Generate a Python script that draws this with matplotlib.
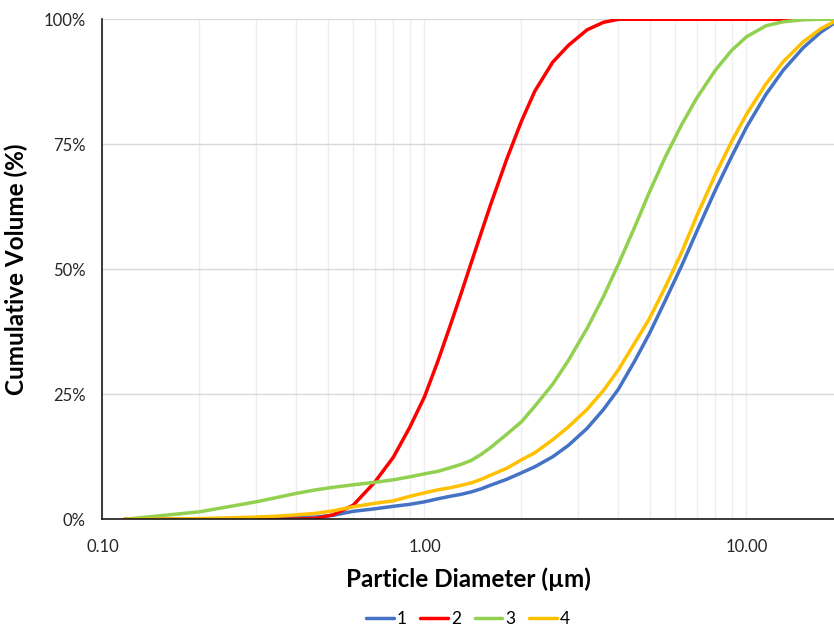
import matplotlib.pyplot as plt
import matplotlib.ticker as mticker

plt.rcParams['font.family'] = ['Lato', 'DejaVu Sans']

# particle diameter (um)
diameter = [0.117, 0.15, 0.2, 0.25, 0.3, 0.35, 0.4, 0.46, 0.52, 0.6, 0.7, 0.8, 0.9,
            1.0, 1.1, 1.2, 1.3, 1.4, 1.5, 1.6, 1.8, 2.0, 2.2, 2.5, 2.8, 3.2, 3.6,
            4.0, 4.5, 5.0, 5.6, 6.3, 7.0, 8.0, 9.0, 10, 11.5, 13, 15, 17, 18.7]

# cumulative volume (%)
s1 = [0, 0, 0.05, 0.1, 0.15, 0.25, 0.35, 0.45, 0.8, 1.6, 2.1, 2.6, 3.0,
      3.5, 4.1, 4.6, 5.0, 5.5, 6.1, 6.8, 8.0, 9.3, 10.5, 12.5, 14.8, 18.2, 22.0,
      26.0, 31.7, 37.2, 43.8, 50.8, 57.5, 65.8, 72.6, 78.4, 85.0, 89.8, 94.3, 97.4, 99.2]
s2 = [0, 0, 0, 0, 0, 0, 0.05, 0.2, 0.9, 2.8, 7.4, 12.4, 18.4,
      24.5, 31.6, 38.6, 45.2, 51.5, 57.3, 62.7, 72.0, 79.6, 85.6, 91.4, 94.8, 97.9, 99.4,
      100, 100, 100, 100, 100, 100, 100, 100, 100, 100, 100, 100, 100, 100]
s3 = [0, 0.7, 1.5, 2.6, 3.5, 4.4, 5.2, 5.9, 6.4, 6.9, 7.4, 7.9, 8.5,
      9.1, 9.6, 10.3, 11.0, 11.8, 13.0, 14.3, 17.0, 19.5, 22.6, 27.0, 31.8, 38.2, 44.6,
      51.0, 58.5, 65.5, 72.5, 79.0, 84.2, 89.8, 93.8, 96.5, 98.7, 99.5, 99.9, 100, 100]
s4 = [0, 0.05, 0.15, 0.3, 0.45, 0.65, 0.9, 1.2, 1.7, 2.5, 3.2, 3.7, 4.6,
      5.3, 5.9, 6.3, 6.8, 7.3, 8.0, 8.8, 10.2, 11.9, 13.3, 15.9, 18.5, 22.0, 25.8,
      29.9, 35.3, 40.2, 46.5, 53.5, 60.6, 68.9, 75.6, 81.0, 87.1, 91.5, 95.5, 98.1, 99.5]

names = ['1', '2', '3', '4']
colors = ['#4472C4', '#FF0000', '#92D050', '#FFC000']

fig = plt.figure(figsize=(8.34, 6.26), dpi=100)
ax = fig.add_axes([0.1229, 0.1704, 0.8771, 0.7988])

for ys, name, c in zip([s1, s2, s3, s4], names, colors):
    ax.plot(diameter, ys, color=c, lw=2.5, label=name,
            solid_joinstyle='round', solid_capstyle='round')

ax.set_xscale('log')
ax.set_xlim(0.1, 18.7)
ax.set_ylim(0, 100)
ax.set_yticks([0, 25, 50, 75, 100])
ax.yaxis.set_major_formatter(mticker.FuncFormatter(lambda v, p: f'{v:.0f}%'))
ax.xaxis.set_major_locator(mticker.FixedLocator([0.1, 1, 10]))
ax.xaxis.set_major_formatter(mticker.FuncFormatter(lambda v, p: f'{v:.2f}'))
ax.xaxis.set_minor_locator(mticker.LogLocator(base=10, subs=range(2, 10)))
ax.xaxis.set_minor_formatter(mticker.NullFormatter())

ax.grid(axis='y', which='major', color='#D9D9D9', lw=1.0)
ax.grid(axis='x', which='both', color='#EEEEEE', lw=1.0)
ax.set_axisbelow(True)
ax.tick_params(which='both', length=0, labelsize=12, colors='#262626', pad=12)
ax.tick_params(axis='x', pad=14)
for sp in ['top', 'right']:
    ax.spines[sp].set_visible(False)
for sp in ['left', 'bottom']:
    ax.spines[sp].set_color('#1a1a1a')
    ax.spines[sp].set_linewidth(1.2)

ax.set_xlabel('Particle Diameter (µm)', fontsize=17.5, fontweight='bold', labelpad=9)
ax.set_ylabel('Cumulative Volume (%)', fontsize=17.5, fontweight='bold', labelpad=11)

fig.legend(loc='center', bbox_to_anchor=(0.561, 0.011), ncol=4, frameon=False,
           fontsize=12.5, handlelength=1.6, handletextpad=0.15, columnspacing=0.8)

fig.savefig('out.png', dpi=100)
